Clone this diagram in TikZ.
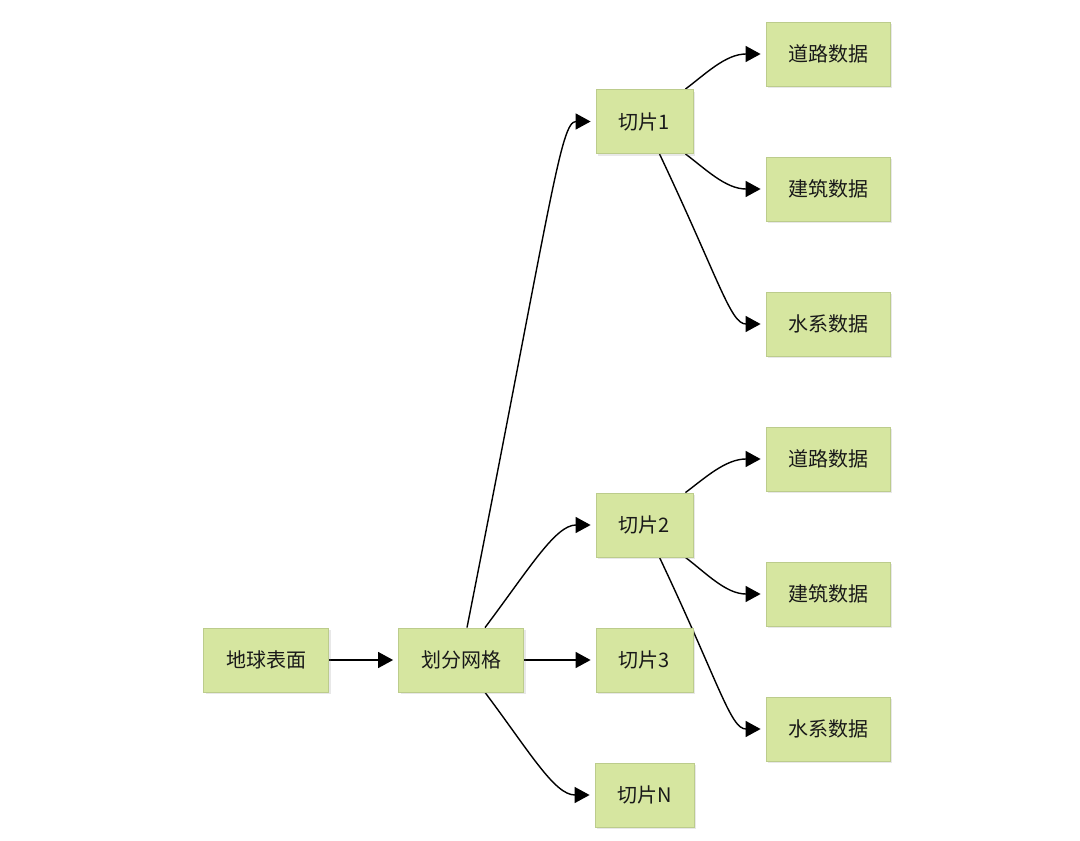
\documentclass[tikz,border=0pt]{standalone}
\usepackage{fontspec}
\newfontfamily\cjk{Noto Sans CJK SC}
\usetikzlibrary{arrows.meta,shadows,backgrounds}
\definecolor{boxfill}{RGB}{214,230,160}
\definecolor{boxline}{RGB}{188,204,140}
\definecolor{txt}{RGB}{25,25,25}
\tikzset{
  box/.style={draw=boxline,line width=0.8pt,fill=boxfill,minimum height=64pt,
    text=txt,font=\cjk\fontsize{20}{22}\selectfont,inner sep=0pt,
    drop shadow={opacity=0.18,shadow xshift=2pt,shadow yshift=-2pt}},
  wbox/.style={box,minimum width=125pt},
  sbox/.style={box,minimum width=97pt},
  conn/.style={draw=black,line width=1.4pt,shorten >=5pt,-{Triangle[length=15pt,width=16pt]}}
}
\begin{document}
\begin{tikzpicture}[x=1pt,y=-1pt]
\path[use as bounding box] (0,0) rectangle (1080,841);
\node[wbox] (earth) at (266,660) {地球表面};
\node[wbox] (grid) at (461,660) {划分网格};
\node[sbox] (s1) at (644.5,121.5) {切片1};
\node[sbox] (s2) at (644.5,525) {切片2};
\node[sbox] (s3) at (644.5,660) {切片3};
\node[sbox,minimum width=99pt] (sn) at (644.5,795) {切片N};
\node[wbox,minimum width=124pt] (r1) at (828,54) {道路数据};
\node[wbox,minimum width=124pt] (b1) at (828,189) {建筑数据};
\node[wbox,minimum width=124pt] (w1) at (828,324) {水系数据};
\node[wbox,minimum width=124pt] (r2) at (828,459) {道路数据};
\node[wbox,minimum width=124pt] (b2) at (828,594) {建筑数据};
\node[wbox,minimum width=124pt] (w2) at (828,729) {水系数据};
\begin{scope}[on background layer]
\draw[conn] (earth.east) -- (grid.west);
\draw[conn] (grid.east) -- (s3.west);
\draw[conn] ([xshift=6pt]grid.north) .. controls +(85,-430) and +(-35,0) .. (s1.west);
\draw[conn] ([xshift=24pt]grid.north) .. controls +(45,-60) and +(-40,0) .. (s2.west);
\draw[conn] ([xshift=24pt]grid.south) .. controls +(45,60) and +(-40,0) .. (sn.west);
\foreach \s/\r/\b/\w in {s1/r1/b1/w1, s2/r2/b2/w2}{
  \draw[conn] ([xshift=-8pt]\s.north east) .. controls +(20,-15) and +(-40,0) .. (\r.west);
  \draw[conn] ([xshift=-8pt]\s.south east) .. controls +(20,15) and +(-40,0) .. (\b.west);
  \draw[conn] ([xshift=15pt]\s.south) .. controls +(60,127) and +(-35,0) .. (\w.west);
}
\end{scope}
\end{tikzpicture}
\end{document}
